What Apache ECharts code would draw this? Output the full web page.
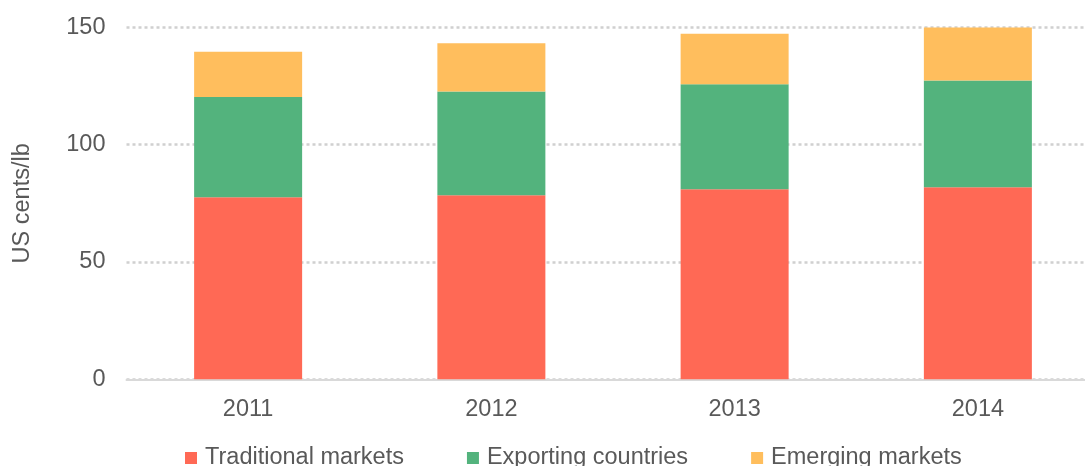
<!DOCTYPE html>
<html>
<head>
<meta charset="utf-8">
<script src="https://cdn.jsdelivr.net/npm/echarts@6/dist/echarts.min.js"></script>
<style>
  html, body { margin: 0; padding: 0; background: #fff; }
  #chart { width: 1085px; height: 466px; }
</style>
</head>
<body>
<div id="chart"></div>
<script>
  const years = ['2011', '2012', '2013', '2014']
  const traditional = [77.6, 78.4, 81.0, 81.8]
  const exporting = [42.7, 44.2, 44.7, 45.5]
  const emerging = [19.3, 20.6, 21.5, 22.6]
  const yTicks = [0, 50, 100, 150]

  const textColor = '#595959'
  const font = 'Liberation Sans, Arial, sans-serif'
  const fs = 23.5

  const chart = echarts.init(document.getElementById('chart'))
  chart.setOption({
    animation: false,
    textStyle: { fontFamily: font, color: textColor },
    grid: {
      left: 126.5,
      width: 973,
      top: 27.3,
      bottom: 86.7,
      containLabel: false,
      outerBoundsMode: 'none'
    },
    legend: {
      left: 185,
      top: 446,
      padding: 0,
      itemWidth: 12,
      itemHeight: 12,
      itemGap: 63,
      icon: 'rect',
      textStyle: { fontSize: fs, color: textColor, fontFamily: font, padding: [0, 0, 0, 3] },
      data: ['Traditional markets', 'Exporting countries', 'Emerging markets']
    },
    xAxis: {
      type: 'category',
      data: years,
      axisTick: { show: false },
      axisLine: { lineStyle: { color: '#d9d9d9', width: 2 } },
      axisLabel: { fontSize: fs, color: textColor, margin: 18, fontFamily: font }
    },
    yAxis: {
      type: 'value',
      min: yTicks[0],
      max: yTicks[yTicks.length - 1],
      interval: 50,
      name: 'US cents/lb',
      nameLocation: 'middle',
      nameGap: 92,
      nameTextStyle: { fontSize: fs, color: textColor, fontFamily: font },
      axisLine: { show: false },
      axisTick: { show: false },
      axisLabel: { fontSize: fs, color: textColor, margin: 21, fontFamily: font },
      splitLine: {
        lineStyle: { color: '#d0d0d0', width: 2.5, type: [3, 3] }
      }
    },
    series: [
      {
        name: 'Traditional markets',
        type: 'bar',
        stack: 'total',
        barWidth: '44.4%',
        itemStyle: { color: '#ff6955' },
        data: traditional
      },
      {
        name: 'Exporting countries',
        type: 'bar',
        stack: 'total',
        itemStyle: { color: '#53b37d' },
        data: exporting
      },
      {
        name: 'Emerging markets',
        type: 'bar',
        stack: 'total',
        itemStyle: { color: '#ffbe5d' },
        data: emerging
      }
    ]
  })
</script>
</body>
</html>
